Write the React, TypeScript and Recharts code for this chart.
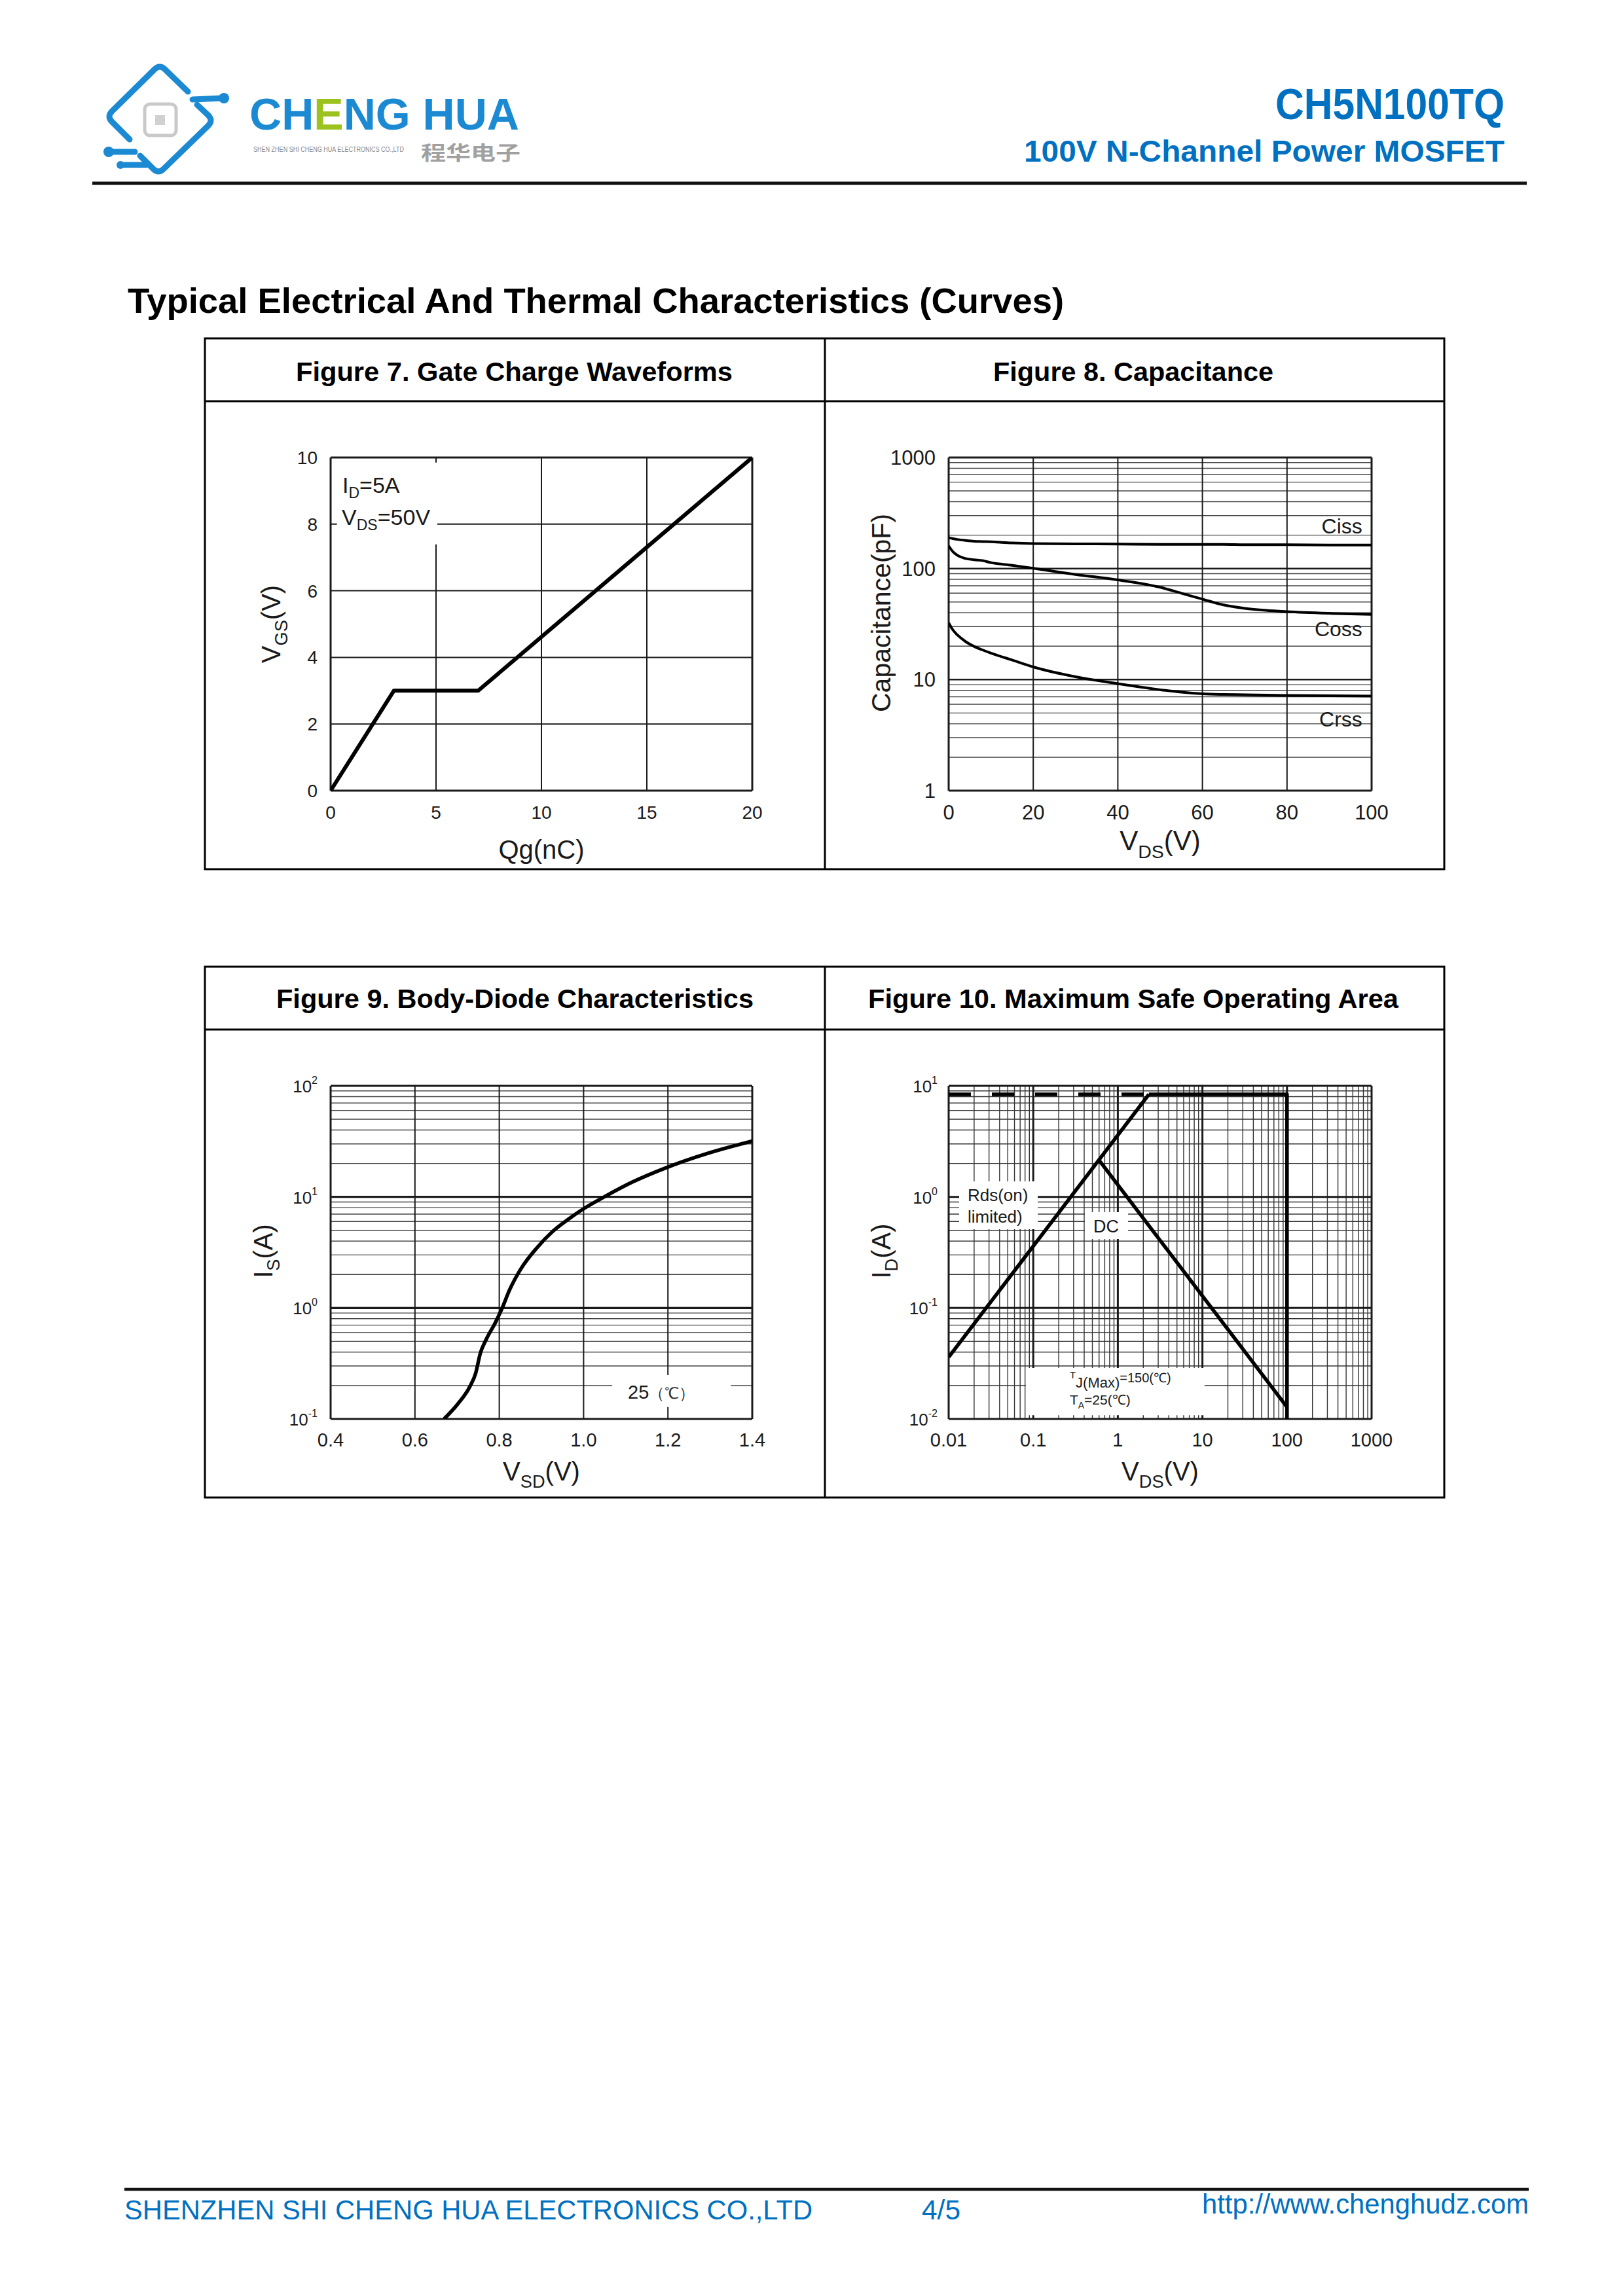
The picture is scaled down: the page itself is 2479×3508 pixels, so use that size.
import React from 'react';
import { LineChart, Line, XAxis, YAxis, ReferenceLine, ReferenceArea, ReferenceDot } from 'recharts';

const FONT = '"Liberation Sans", Arial, Helvetica, sans-serif';
const BLUE = '#0070c0';
const INK = '#1a1a1a';

// Figure 7 - gate charge
const qgNC = [0, 3, 7, 20];
const vgsV = [0, 3, 3, 10];
const qgTicks = [0, 5, 10, 15, 20];
const vgsTicks = [0, 2, 4, 6, 8, 10];

// Figure 8 - capacitance
const vdsCap = [0, 1, 2, 4, 6, 8, 10, 15, 20, 30, 40, 50, 55, 60, 65, 70, 75, 80, 90, 100];
const ciss = [190, 186, 183, 179, 176, 175, 174, 170, 168, 167, 166, 165, 165, 165, 165, 164, 164, 164, 163, 163];
const coss = [160, 142, 132, 123, 120, 118, 113, 107, 100.5, 88.5, 79, 67.8, 60, 53, 47, 43.8, 42, 40.9, 39.5, 38.6];
const crss = [32.5, 28, 25.4, 22, 19.9, 18.5, 17.3, 15, 13, 10.6, 9.2, 8.1, 7.7, 7.45, 7.35, 7.3, 7.25, 7.2, 7.15, 7.1];
const capXTicks = [0, 20, 40, 60, 80, 100];
const capYTicks = [1, 10, 100, 1000];

// Figure 9 - body diode
const vsdV = [0.669, 0.702, 0.73, 0.744, 0.755, 0.769, 0.791, 0.807, 0.824, 0.852, 0.889, 0.927, 0.964, 1.002, 1.049, 1.114, 1.199, 1.292, 1.4];
const isA = [0.1, 0.137, 0.195, 0.258, 0.39, 0.52, 0.74, 1.0, 1.44, 2.27, 3.47, 4.9, 6.3, 7.9, 10, 13.5, 18.5, 24.5, 31.8];
const vsdTicks = [0.4, 0.6, 0.8, 1.0, 1.2, 1.4];
const vsdTickLabels = ['0.4', '0.6', '0.8', '1.0', '1.2', '1.4'];
const isTicks = [0.1, 1, 10, 100];

// Figure 10 - safe operating area
const dashV = [0.01, 2.33];
const dashI = [8.38, 8.38];
const limitV = [2.33, 100, 100];
const limitI = [8.38, 8.38, 0.01];
const rdsV = [0.01, 2.33];
const rdsI = [0.036, 8.38];
const dcV = [0.6, 100];
const dcI = [2.14, 0.0128];
const soaXTicks = [0.01, 0.1, 1, 10, 100, 1000];
const soaXTickLabels = ['0.01', '0.1', '1', '10', '100', '1000'];
const soaYTicks = [0.01, 0.1, 1, 10];

const ML = 160;
const MT = 30;
const MR = 60;
const XH = 130;

const P7 = { x: 505, y: 699, w: 644, h: 509 };
const P8 = { x: 1449, y: 699, w: 646, h: 509 };
const P9 = { x: 505, y: 1659, w: 644, h: 509 };
const P10 = { x: 1449, y: 1659, w: 646, h: 509 };

const pts = (xs: number[], ys: number[]) => xs.map((x, i) => ({ x, y: ys[i] }));

const logGrid = (lo: number, hi: number) => {
  const out: number[] = [];
  for (let d = lo; d < hi / 1.5; d *= 10) {
    for (let m = 1; m <= 9; m++) out.push(Number((d * m).toPrecision(2)));
  }
  out.push(hi);
  return out;
};
const isDecade = (v: number) => Math.abs(Math.log10(v) - Math.round(Math.log10(v))) < 1e-6;

const vGrid = (vals: number[], w: (v: number) => number, color = INK) =>
  vals.map((v) => (
    <ReferenceLine key={'vx' + v} x={v} stroke={color} strokeWidth={w(v)} ifOverflow="visible" zIndex={110} />
  ));
const hGrid = (vals: number[], w: (v: number) => number, color = INK) =>
  vals.map((v) => (
    <ReferenceLine key={'hy' + v} y={v} stroke={color} strokeWidth={w(v)} ifOverflow="visible" zIndex={110} />
  ));

const whiteBox = (x1: number, x2: number, y1: number, y2: number) => (
  <ReferenceArea x1={x1} x2={x2} y1={y1} y2={y2} fill="#fff" fillOpacity={1} stroke="none" ifOverflow="visible" zIndex={120} />
);

const xTick = (ticks: number[], labels: string[], size: number, off: number) => (p: any) => {
  const i = ticks.findIndex((t) => Math.abs(t - p.payload.value) < 1e-9);
  return (
    <text x={p.x} y={p.y + off} textAnchor="middle" fontSize={size} fill={INK} fontFamily={FONT}>
      {labels[i] ?? ''}
    </text>
  );
};

const yTick = (size: number, gap: number, off: number) => (p: any) => (
  <text x={p.x - gap} y={p.y + off} textAnchor="end" fontSize={size} fill={INK} fontFamily={FONT}>
    {String(p.payload.value)}
  </text>
);

const powTick = (gap: number) => (p: any) => {
  const e = Math.round(Math.log10(p.payload.value));
  return (
    <text x={p.x - gap} y={p.y + 10} textAnchor="end" fontSize={26} fill={INK} fontFamily={FONT}>
      10
      <tspan dy={-13} fontSize={16}>
        {String(e)}
      </tspan>
    </text>
  );
};

const xTitle = (plot: any, off: number, size: number, main: string, sub: string, rest: string) => () => (
  <text x={ML + plot.w / 2} y={MT + plot.h + off} textAnchor="middle" fontSize={size} fill={INK} fontFamily={FONT}>
    {main}
    {sub ? (
      <tspan fontSize={size * 0.68} dy={size * 0.28}>
        {sub}
      </tspan>
    ) : null}
    <tspan dy={sub ? -size * 0.28 : 0}>{rest}</tspan>
  </text>
);

const yTitle = (plot: any, gap: number, shift: number, size: number, main: string, sub: string, rest: string) => () => (
  <text
    transform={`translate(${ML - gap}, ${MT + plot.h / 2 + shift}) rotate(-90)`}
    textAnchor="middle"
    fontSize={size}
    fill={INK}
    fontFamily={FONT}
  >
    {main}
    {sub ? (
      <tspan fontSize={size * 0.68} dy={size * 0.28}>
        {sub}
      </tspan>
    ) : null}
    <tspan dy={sub ? -size * 0.28 : 0}>{rest}</tspan>
  </text>
);

const note = (x: number, y: number, render: (cx: number, cy: number) => React.ReactNode) => (
  <ReferenceDot
    x={x}
    y={y}
    r={0}
    ifOverflow="visible"
    zIndex={600}
    shape={(p: any) => <g>{render(p.cx, p.cy)}</g>}
  />
);

function Frame({ plot, children }: any) {
  return <div style={{ position: 'absolute', left: plot.x - ML, top: plot.y - MT }}>{children}</div>;
}

const chartProps = (plot: any) => ({
  width: ML + plot.w + MR,
  height: MT + plot.h + XH,
  margin: { top: MT, right: MR, bottom: 0, left: 0 },
});

function GateChargeChart() {
  const edge = (lo: number, hi: number) => (v: number) => (v === lo || v === hi ? 3 : 2);
  return (
    <Frame plot={P7}>
      <LineChart {...chartProps(P7)}>
        <XAxis dataKey="x" type="number" domain={[0, 20]} ticks={qgTicks} interval={0} allowDataOverflow height={XH}
          axisLine={false} tickLine={false} tickSize={0} tickMargin={0}
          tick={xTick(qgTicks, qgTicks.map(String), 28, 43)}
          label={xTitle(P7, 104, 40, 'Qg(nC)', '', '')} />
        <YAxis type="number" domain={[0, 10]} ticks={vgsTicks} interval={0} allowDataOverflow width={ML}
          axisLine={false} tickLine={false} tickSize={0} tickMargin={0}
          tick={yTick(28, 20, 10)}
          label={yTitle(P7, 77, 0, 40, 'V', 'GS', '(V)')} />
        {vGrid(qgTicks, edge(0, 20))}
        {hGrid(vgsTicks, edge(0, 10))}
        {whiteBox(0.3, 5.06, 7.39, 9.85)}
        <Line data={pts(qgNC, vgsV)} dataKey="y" type="linear" stroke="#000" strokeWidth={6} strokeLinejoin="round"
          dot={false} activeDot={false} isAnimationActive={false} zIndex={400} />
        {note(0.56, 8.94, (x, y) => (
          <text x={x} y={y} fontSize={34} fill={INK} fontFamily={FONT}>
            I<tspan fontSize={23} dy={8}>D</tspan><tspan dy={-8}>=5A</tspan>
          </text>
        ))}
        {note(0.53, 7.98, (x, y) => (
          <text x={x} y={y} fontSize={34} fill={INK} fontFamily={FONT}>
            V<tspan fontSize={23} dy={8}>DS</tspan><tspan dy={-8}>=50V</tspan>
          </text>
        ))}
      </LineChart>
    </Frame>
  );
}

function CapacitanceChart() {
  const data = vdsCap.map((v, i) => ({ x: v, ciss: ciss[i], coss: coss[i], crss: crss[i] }));
  const yLines = logGrid(1, 1000);
  const label = (txt: string, v: number) =>
    note(97.8, v, (x, y) => (
      <text x={x} y={y} textAnchor="end" fontSize={32} fill={INK} fontFamily={FONT}>
        {txt}
      </text>
    ));
  return (
    <Frame plot={P8}>
      <LineChart {...chartProps(P8)} data={data}>
        <XAxis dataKey="x" type="number" domain={[0, 100]} ticks={capXTicks} interval={0} allowDataOverflow height={XH}
          axisLine={false} tickLine={false} tickSize={0} tickMargin={0}
          tick={xTick(capXTicks, capXTicks.map(String), 31, 44)}
          label={xTitle(P8, 91, 42, 'V', 'DS', '(V)')} />
        <YAxis type="number" scale="log" domain={[1, 1000]} ticks={capYTicks} interval={0} allowDataOverflow width={ML}
          axisLine={false} tickLine={false} tickSize={0} tickMargin={0}
          tick={yTick(31, 20, 11)}
          label={yTitle(P8, 89, -17, 41, 'Capacitance(pF)', '', '')} />
        {hGrid(yLines.filter((v) => !isDecade(v)), () => 1.4, '#444')}
        {hGrid(yLines.filter((v) => isDecade(v)), (v) => (v === 1 || v === 1000 ? 3 : 2.5))}
        {vGrid(capXTicks, (v) => (v === 0 || v === 100 ? 3 : 2))}
        <Line dataKey="ciss" type="monotone" stroke="#000" strokeWidth={4} dot={false} activeDot={false} isAnimationActive={false} zIndex={400} />
        <Line dataKey="coss" type="monotone" stroke="#000" strokeWidth={4} dot={false} activeDot={false} isAnimationActive={false} zIndex={400} />
        <Line dataKey="crss" type="monotone" stroke="#000" strokeWidth={4} dot={false} activeDot={false} isAnimationActive={false} zIndex={400} />
        {label('Ciss', 207)}
        {label('Coss', 24.6)}
        {label('Crss', 3.78)}
      </LineChart>
    </Frame>
  );
}

function DiodeChart() {
  const yLines = logGrid(0.1, 100);
  return (
    <Frame plot={P9}>
      <LineChart {...chartProps(P9)}>
        <XAxis dataKey="x" type="number" domain={[0.4, 1.4]} ticks={vsdTicks} interval={0} allowDataOverflow height={XH}
          axisLine={false} tickLine={false} tickSize={0} tickMargin={0}
          tick={xTick(vsdTicks, vsdTickLabels, 29, 42)}
          label={xTitle(P9, 94, 40, 'V', 'SD', '(V)')} />
        <YAxis type="number" scale="log" domain={[0.1, 100]} ticks={isTicks} interval={0} allowDataOverflow width={ML}
          axisLine={false} tickLine={false} tickSize={0} tickMargin={0}
          tick={powTick(20)}
          label={yTitle(P9, 89, -2, 40, 'I', 'S', '(A)')} />
        {hGrid(yLines.filter((v) => !isDecade(v)), () => 1.4, '#444')}
        {hGrid(yLines.filter((v) => isDecade(v)), () => 3.2)}
        {vGrid(vsdTicks, (v) => (v === 0.4 || v === 1.4 ? 3 : 2))}
        {whiteBox(1.068, 1.349, 0.128, 0.248)}
        <Line data={pts(vsdV, isA)} dataKey="y" type="monotone" stroke="#000" strokeWidth={5.5} dot={false}
          activeDot={false} isAnimationActive={false} zIndex={400} />
        {note(1.105, 0.152, (x, y) => (
          <text x={x} y={y} fontSize={29} fill={INK} fontFamily={FONT}>
            25<tspan fontSize={24} fill="#333">（℃）</tspan>
          </text>
        ))}
      </LineChart>
    </Frame>
  );
}

function SoaChart() {
  const xLines = logGrid(0.01, 1000);
  const yLines = logGrid(0.01, 10);
  const series = (xs: number[], ys: number[], dash?: string) => (
    <Line data={pts(xs, ys)} dataKey="y" type="linear" stroke="#000" strokeWidth={5.5} strokeDasharray={dash}
      strokeLinejoin="round" dot={false} activeDot={false} isAnimationActive={false} zIndex={400} />
  );
  return (
    <Frame plot={P10}>
      <LineChart {...chartProps(P10)}>
        <XAxis dataKey="x" type="number" scale="log" domain={[0.01, 1000]} ticks={soaXTicks} interval={0} allowDataOverflow
          height={XH} axisLine={false} tickLine={false} tickSize={0} tickMargin={0}
          tick={xTick(soaXTicks, soaXTickLabels, 29, 42)}
          label={xTitle(P10, 94, 40, 'V', 'DS', '(V)')} />
        <YAxis type="number" scale="log" domain={[0.01, 10]} ticks={soaYTicks} interval={0} allowDataOverflow width={ML}
          axisLine={false} tickLine={false} tickSize={0} tickMargin={0}
          tick={powTick(17)}
          label={yTitle(P10, 89, -2, 40, 'I', 'D', '(A)')} />
        {hGrid(yLines.filter((v) => !isDecade(v)), () => 1.4, '#333')}
        {vGrid(xLines.filter((v) => !isDecade(v)), () => 1.4, '#333')}
        {hGrid(yLines.filter((v) => isDecade(v)), () => 3)}
        {vGrid(xLines.filter((v) => isDecade(v)), () => 3)}
        {whiteBox(0.0133, 0.113, 0.512, 1.38)}
        {whiteBox(0.407, 1.32, 0.418, 0.729)}
        {whiteBox(0.0818, 10.6, 0.0108, 0.0288)}
        {series(dashV, dashI, '34 32')}
        {series(limitV, limitI)}
        {series(rdsV, rdsI)}
        {series(dcV, dcI)}
        {note(0.01675, 0.918, (x, y) => (
          <text x={x} y={y} fontSize={26} fill={INK} fontFamily={FONT}>Rds(on)</text>
        ))}
        {note(0.01675, 0.586, (x, y) => (
          <text x={x} y={y} fontSize={26} fill={INK} fontFamily={FONT}>limited)</text>
        ))}
        {note(0.514, 0.479, (x, y) => (
          <text x={x} y={y} fontSize={27} fill={INK} fontFamily={FONT}>DC</text>
        ))}
        {note(0.27, 0.0214, (x, y) => (
          <text x={x} y={y} fontSize={21} fill={INK} fontFamily={FONT}>
            <tspan fontSize={15} dy={-6}>T</tspan>
            <tspan fontSize={22} dy={14}>J(Max)</tspan>
            <tspan fontSize={20} dy={-8}>=150(℃)</tspan>
          </text>
        ))}
        {note(0.27, 0.01349, (x, y) => (
          <text x={x} y={y} fontSize={21} fill={INK} fontFamily={FONT}>
            T<tspan fontSize={14} dy={6}>A</tspan><tspan dy={-6}>=25(℃)</tspan>
          </text>
        ))}
      </LineChart>
    </Frame>
  );
}

function Logo() {
  const c = '#1b8ad3';
  return (
    <g>
      <g fill="none" stroke={c} strokeWidth={9} strokeLinecap="round" strokeLinejoin="round">
        <path d="M 287 140 L 252 106 Q 244 98 236 106 L 171 170 Q 163 178 171 186 L 198 213" />
        <path d="M 294 152 L 338 150" />
        <path d="M 301 160 L 318 176 Q 326 184 318 192 L 250 258 Q 242 266 234 258 L 214 238" />
        <path d="M 170 232 L 206 232" />
        <path d="M 188 252 L 224 252" />
      </g>
      <circle cx={342} cy={150} r={8} fill={c} />
      <circle cx={166} cy={232} r={8} fill={c} />
      <circle cx={184} cy={252} r={6} fill={c} />
      <rect x={221} y={159} width={48} height={48} rx={8} fill="none" stroke="#c9c9c9" strokeWidth={5} />
      <rect x={237} y={176} width={15} height={15} fill="#d0d0d0" />
      <text x={381} y={198} fontSize={68} fontWeight="bold" fontFamily={FONT} textLength={412} lengthAdjust="spacingAndGlyphs">
        <tspan fill={c}>CH</tspan>
        <tspan fill="#9cc31d">E</tspan>
        <tspan fill={c}>NG HUA</tspan>
      </text>
      <text x={387} y={232} fontSize={10} fill="#888" fontFamily={FONT} textLength={230} lengthAdjust="spacingAndGlyphs">
        SHEN ZHEN SHI CHENG HUA ELECTRONICS CO.,LTD
      </text>
      <text x={643} y={244} fontSize={30} fontWeight="bold" fill="#a0a0a0" fontFamily='"Noto Sans CJK SC", sans-serif'
        textLength={152} lengthAdjust="spacingAndGlyphs">
        程华电子
      </text>
    </g>
  );
}

function PageChrome() {
  const head = (x: number, y: number, len: number, txt: string) => (
    <text x={x} y={y} fontSize={40} fontWeight="bold" fill="#000" fontFamily={FONT} textLength={len} lengthAdjust="spacingAndGlyphs">
      {txt}
    </text>
  );
  const table = (top: number) => (
    <g stroke="#000" strokeWidth={3} fill="none">
      <rect x={313} y={top} width={1893} height={811} />
      <line x1={313} y1={top + 96} x2={2206} y2={top + 96} />
      <line x1={1260} y1={top} x2={1260} y2={top + 811} />
    </g>
  );
  return (
    <svg width={2479} height={3508} style={{ position: 'absolute', left: 0, top: 0 }}>
      <Logo />
      <text x={1948} y={182} fontSize={66} fontWeight="bold" fill={BLUE} fontFamily={FONT} textLength={350} lengthAdjust="spacingAndGlyphs">
        CH5N100TQ
      </text>
      <text x={1564} y={247} fontSize={46} fontWeight="bold" fill={BLUE} fontFamily={FONT} textLength={734} lengthAdjust="spacingAndGlyphs">
        100V N-Channel Power MOSFET
      </text>
      <line x1={141} y1={280} x2={2332} y2={280} stroke="#111" strokeWidth={5} />
      <text x={195} y={478} fontSize={54} fontWeight="bold" fill="#000" fontFamily={FONT} textLength={1430} lengthAdjust="spacingAndGlyphs">
        Typical Electrical And Thermal Characteristics (Curves)
      </text>
      {table(517)}
      {table(1477)}
      {head(452, 582, 667, 'Figure 7. Gate Charge Waveforms')}
      {head(1517, 582, 428, 'Figure 8. Capacitance')}
      {head(422, 1540, 729, 'Figure 9. Body-Diode Characteristics')}
      {head(1326, 1540, 810, 'Figure 10. Maximum Safe Operating Area')}
      <line x1={190} y1={3345} x2={2335} y2={3345} stroke="#111" strokeWidth={4.5} />
      <text x={190} y={3391} fontSize={42} fill={BLUE} fontFamily={FONT} textLength={1051} lengthAdjust="spacingAndGlyphs">
        SHENZHEN SHI CHENG HUA ELECTRONICS CO.,LTD
      </text>
      <text x={1408} y={3391} fontSize={42} fill={BLUE} fontFamily={FONT} textLength={59} lengthAdjust="spacingAndGlyphs">
        4/5
      </text>
      <text x={1836} y={3382} fontSize={42} fill={BLUE} fontFamily={FONT} textLength={499} lengthAdjust="spacingAndGlyphs">
        http://www.chenghudz.com
      </text>
    </svg>
  );
}

export default function App() {
  return (
    <div style={{ position: 'absolute', left: 0, top: 0, width: 2479, height: 3508, background: '#fff', fontFamily: FONT }}>
      <PageChrome />
      <GateChargeChart />
      <CapacitanceChart />
      <DiodeChart />
      <SoaChart />
    </div>
  );
}
